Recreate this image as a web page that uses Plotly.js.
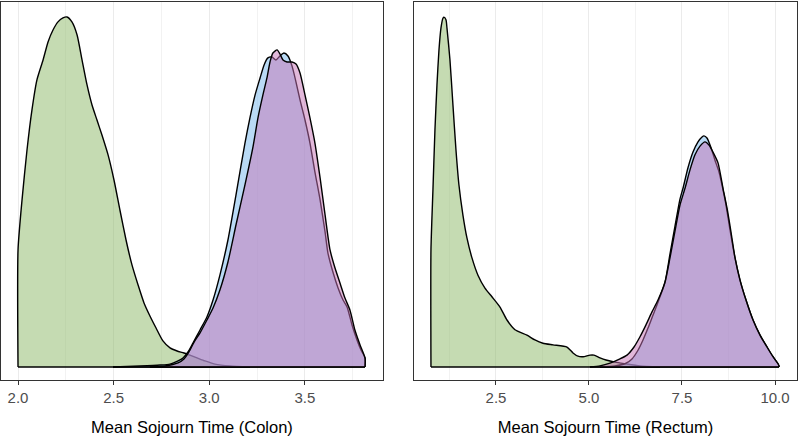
<!DOCTYPE html>
<html><head><meta charset="utf-8">
<script src="https://cdn.plot.ly/plotly-3.0.1.min.js"></script>
<style>html,body{margin:0;padding:0;background:#fff}#chart{width:799px;height:436px}</style>
</head><body><div id="chart"></div>
<script>
// Colon panel densities
const colonGreenX = [2.000, 2.021, 2.047, 2.073, 2.099, 2.131, 2.157, 2.183, 2.209, 2.235, 2.256, 2.282, 2.309, 2.335, 2.361, 2.387, 2.413, 2.439, 2.471, 2.502, 2.533, 2.565, 2.596, 2.628, 2.659, 2.690, 2.722, 2.758, 2.795, 2.832, 2.868, 2.926, 2.978, 3.030, 3.109, 3.213];
const colonGreenY = [0.718, 1.025, 1.331, 1.577, 1.761, 1.883, 1.994, 2.067, 2.117, 2.141, 2.147, 2.117, 2.037, 1.883, 1.730, 1.607, 1.515, 1.423, 1.301, 1.147, 0.963, 0.779, 0.626, 0.503, 0.393, 0.313, 0.239, 0.160, 0.117, 0.098, 0.086, 0.061, 0.037, 0.018, 0.006, 0.000];
const colonBlueX = [2.497, 2.638, 2.743, 2.795, 2.837, 2.863, 2.889, 2.915, 2.952, 2.988, 3.020, 3.056, 3.098, 3.140, 3.187, 3.213, 3.240, 3.266, 3.287, 3.307, 3.328, 3.349, 3.370, 3.391, 3.412, 3.433, 3.454, 3.475, 3.501, 3.527, 3.553, 3.580, 3.606, 3.621, 3.647, 3.674, 3.700, 3.721, 3.747, 3.773, 3.794, 3.815];
const colonBlueY = [0, 0.006, 0.012, 0.018, 0.037, 0.055, 0.092, 0.147, 0.227, 0.307, 0.411, 0.564, 0.779, 1.055, 1.374, 1.528, 1.669, 1.773, 1.853, 1.896, 1.902, 1.883, 1.908, 1.926, 1.908, 1.847, 1.748, 1.638, 1.515, 1.374, 1.196, 1.025, 0.828, 0.699, 0.583, 0.485, 0.411, 0.368, 0.258, 0.166, 0.104, 0.055];
const colonPinkX = [2.690, 2.769, 2.837, 2.868, 2.894, 2.921, 2.952, 2.988, 3.020, 3.056, 3.098, 3.140, 3.187, 3.229, 3.255, 3.281, 3.302, 3.318, 3.333, 3.355, 3.370, 3.386, 3.407, 3.433, 3.454, 3.475, 3.501, 3.527, 3.553, 3.580, 3.606, 3.632, 3.658, 3.684, 3.710, 3.736, 3.762, 3.789, 3.815];
const colonPinkY = [0, 0.006, 0.025, 0.049, 0.092, 0.153, 0.209, 0.288, 0.362, 0.472, 0.644, 0.871, 1.117, 1.350, 1.528, 1.669, 1.773, 1.871, 1.926, 1.945, 1.920, 1.883, 1.871, 1.871, 1.859, 1.804, 1.669, 1.528, 1.374, 1.160, 0.933, 0.718, 0.607, 0.515, 0.423, 0.350, 0.227, 0.135, 0.055];

// Rectum panel densities
const rectumGreenX = [0.753, 0.806, 0.860, 0.914, 0.968, 1.022, 1.075, 1.102, 1.156, 1.183, 1.263, 1.344, 1.425, 1.505, 1.613, 1.720, 1.855, 2.016, 2.204, 2.392, 2.608, 2.796, 3.011, 3.333, 3.548, 3.763, 4.032, 4.409, 4.570, 4.704, 4.839, 5.027, 5.134, 5.296, 5.457, 5.699, 5.968, 6.371, 6.909];
const rectumGreenY = [0.217, 0.328, 0.439, 0.522, 0.587, 0.628, 0.646, 0.648, 0.643, 0.628, 0.569, 0.485, 0.402, 0.337, 0.281, 0.239, 0.202, 0.170, 0.146, 0.130, 0.111, 0.087, 0.069, 0.059, 0.050, 0.044, 0.041, 0.037, 0.026, 0.020, 0.019, 0.022, 0.022, 0.017, 0.013, 0.009, 0.006, 0.002, 0.000];
const rectumBlueX = [5.296, 5.699, 5.968, 6.156, 6.317, 6.452, 6.586, 6.720, 6.855, 7.043, 7.177, 7.312, 7.446, 7.527, 7.661, 7.796, 7.930, 8.038, 8.091, 8.172, 8.280, 8.387, 8.495, 8.575, 8.683, 8.790, 8.925, 9.059, 9.220, 9.409, 9.597, 9.785, 9.946, 10.081, 10.108];
const rectumBlueY = [0, 0.002, 0.006, 0.015, 0.031, 0.050, 0.072, 0.096, 0.120, 0.157, 0.209, 0.261, 0.311, 0.331, 0.369, 0.398, 0.417, 0.426, 0.428, 0.424, 0.406, 0.383, 0.361, 0.337, 0.300, 0.254, 0.202, 0.161, 0.124, 0.087, 0.059, 0.037, 0.019, 0.006, 0.002];
const rectumPinkX = [5.027, 5.296, 5.565, 5.833, 6.022, 6.210, 6.371, 6.532, 6.694, 6.855, 7.043, 7.177, 7.312, 7.446, 7.581, 7.715, 7.849, 7.984, 8.118, 8.226, 8.333, 8.468, 8.602, 8.710, 8.817, 8.925, 9.059, 9.220, 9.409, 9.597, 9.785, 9.946, 10.081, 10.108];
const rectumPinkY = [0, 0.002, 0.007, 0.015, 0.022, 0.037, 0.056, 0.078, 0.102, 0.124, 0.157, 0.202, 0.252, 0.300, 0.331, 0.365, 0.393, 0.409, 0.417, 0.411, 0.398, 0.378, 0.331, 0.294, 0.250, 0.202, 0.161, 0.124, 0.087, 0.059, 0.037, 0.019, 0.006, 0.002];

const axisTitles = ['Mean Sojourn Time (Colon)', 'Mean Sojourn Time (Rectum)'];

const fills = {
  green: 'rgba(139,183,101,0.5)',
  blue: 'rgba(115,181,235,0.5)',
  pink: 'rgba(198,114,182,0.5)'
};

function densityTrace(xs, ys, color, xa, ya) {
  const n = xs.length;
  // upper curve (smoothed), filled down to the baseline, plus a closed outline
  return [{
    type: 'scatter', mode: 'lines',
    x: [xs[0]].concat(xs, [xs[n - 1]]),
    y: [0].concat(ys, [0]),
    fill: 'toself', fillcolor: color,
    line: {color: '#000', width: 1.4, shape: 'spline', smoothing: 0.6},
    xaxis: xa, yaxis: ya, hoverinfo: 'skip', showlegend: false
  }, {
    type: 'scatter', mode: 'lines',
    x: [xs[0], xs[n - 1]], y: [0, 0],
    line: {color: '#000', width: 1.4},
    xaxis: xa, yaxis: ya, hoverinfo: 'skip', showlegend: false
  }];
}

const data = [].concat(
  densityTrace(colonGreenX, colonGreenY, fills.green, 'x', 'y'),
  densityTrace(colonBlueX, colonBlueY, fills.blue, 'x', 'y'),
  densityTrace(colonPinkX, colonPinkY, fills.pink, 'x', 'y'),
  densityTrace(rectumGreenX, rectumGreenY, fills.green, 'x2', 'y2'),
  densityTrace(rectumBlueX, rectumBlueY, fills.blue, 'x2', 'y2'),
  densityTrace(rectumPinkX, rectumPinkY, fills.pink, 'x2', 'y2')
);

const font = 'Liberation Sans, Arial, Helvetica, sans-serif';
function xAxis(domain, range, dtick, minorDtick, title) {
  return {
    domain: domain, range: range, tick0: 0, dtick: dtick, tickformat: '.1f',
    showgrid: true, gridcolor: '#ebebeb', gridwidth: 1,
    minor: {dtick: minorDtick, tick0: 0, showgrid: true, gridcolor: '#ededed', gridwidth: 0.7, ticks: ''},
    showline: true, mirror: true, linecolor: '#333333', linewidth: 1,
    ticks: 'outside', ticklen: 4, tickcolor: '#333333', tickwidth: 1,
    zeroline: false, fixedrange: true,
    tickfont: {family: font, size: 15, color: '#4d4d4d'},
    title: {text: title, font: {family: font, size: 16.5, color: '#000'}}
  };
}
function yAxis(range, anchor) {
  return {
    range: range, anchor: anchor, domain: [0, 1],
    showticklabels: false, showgrid: false, zeroline: false, ticks: '',
    showline: true, mirror: true, linecolor: '#333333', linewidth: 1
  };
}

const layout = {
  width: 799, height: 436,
  margin: {l: 1, r: 2, t: 2, b: 56, pad: 0},
  paper_bgcolor: '#fff', plot_bgcolor: '#fff',
  font: {family: font},
  showlegend: false,
  xaxis: Object.assign(xAxis([0, 0.4799], [1.911, 3.909], 0.5, 0.25, axisTitles[0]), {anchor: 'y'}),
  yaxis: yAxis([-0.0798, 2.239], 'x'),
  xaxis2: Object.assign(xAxis([0.5188, 1], [0.296, 10.591], 2.5, 1.25, axisTitles[1]), {anchor: 'y2'}),
  yaxis2: yAxis([-0.0241, 0.676], 'x2')
};

Plotly.newPlot('chart', data, layout, {staticPlot: true, displayModeBar: false});
</script>
</body></html>
